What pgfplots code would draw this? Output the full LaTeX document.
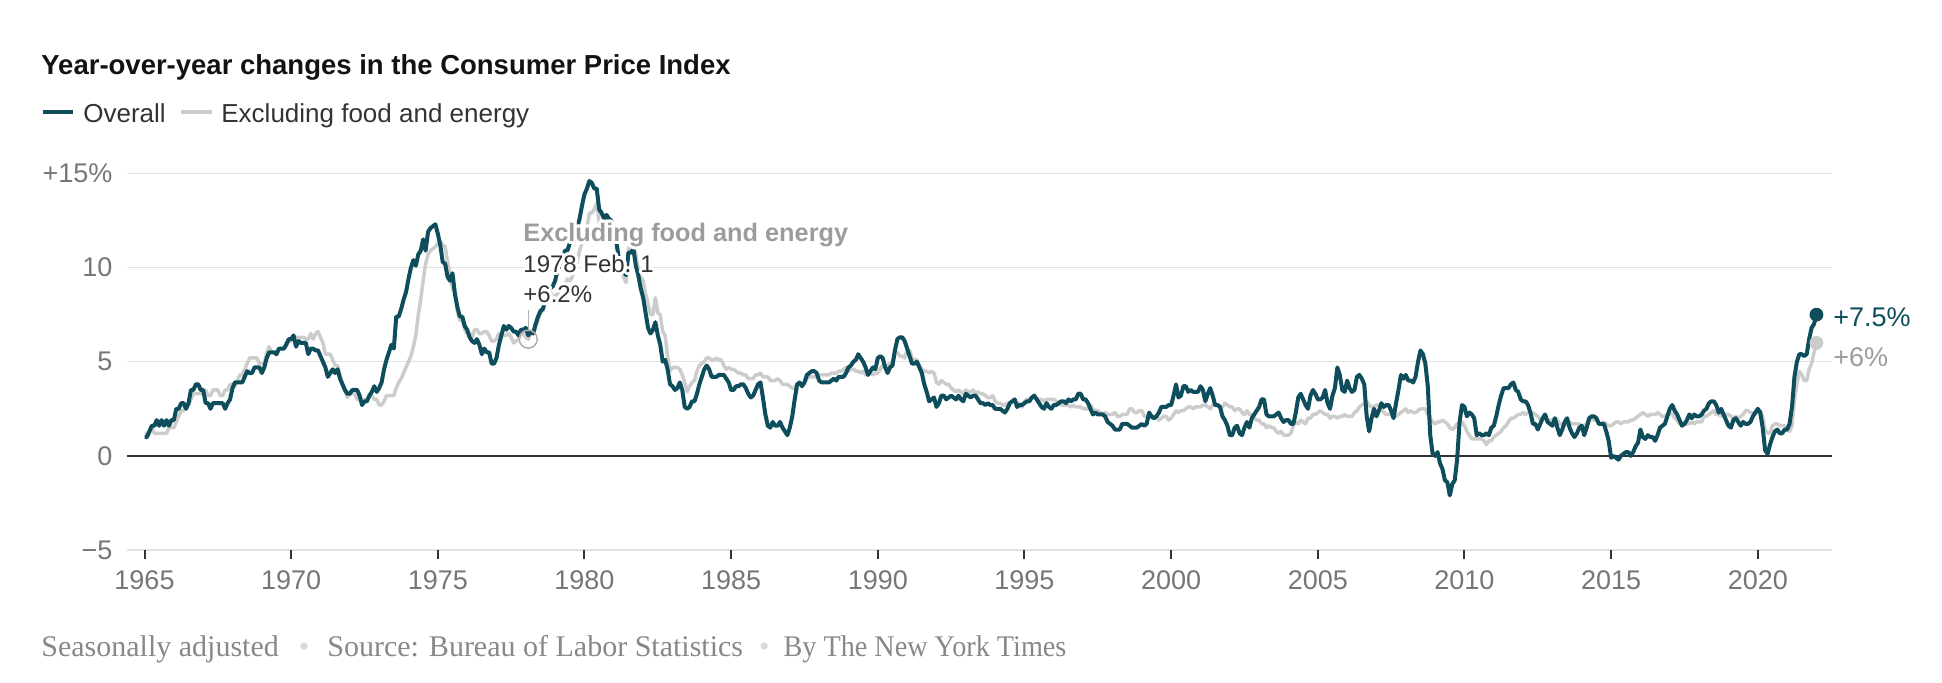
\documentclass[border=0pt]{standalone}
\usepackage{fontspec}
\setmainfont{Liberation Sans}
\newfontfamily\footfont{Liberation Serif}
\usepackage{graphicx}
\usepackage{pgfplots}
\usepackage{pgfplotstable}
\pgfplotsset{compat=1.18}
\usepackage{contour}
\contourlength{1.6pt}

\definecolor{cpi}{HTML}{0E4D5C}
\definecolor{core}{HTML}{CCCCCC}
\definecolor{gridc}{HTML}{E2E2E2}
\definecolor{tickc}{HTML}{767676}
\definecolor{annc}{HTML}{9C9C9C}
\definecolor{footc}{HTML}{888888}
\definecolor{dotc}{HTML}{DADADA}
\definecolor{titlec}{HTML}{121212}
\definecolor{textc}{HTML}{333333}

\newcommand\fs[1]{\fontsize{#1}{#1}\selectfont}

% monthly year-over-year change, Jan 1965 - Jan 2022
\pgfplotstableread[row sep=\\]{
v\\
1.0\\1.0\\1.3\\1.6\\1.6\\1.9\\1.6\\1.9\\1.6\\1.9\\1.6\\1.9\\
1.9\\2.5\\2.5\\2.8\\2.8\\2.5\\2.8\\3.5\\3.5\\3.8\\3.8\\3.5\\
3.5\\2.8\\2.8\\2.5\\2.8\\2.8\\2.8\\2.8\\2.8\\2.5\\2.8\\3.0\\
3.6\\3.9\\3.9\\3.9\\3.9\\4.2\\4.5\\4.4\\4.4\\4.7\\4.7\\4.7\\
4.4\\4.7\\5.2\\5.5\\5.5\\5.5\\5.4\\5.7\\5.7\\5.7\\5.9\\6.2\\
6.2\\6.4\\5.8\\6.1\\6.0\\6.0\\6.0\\5.4\\5.7\\5.7\\5.6\\5.6\\
5.3\\5.0\\4.7\\4.2\\4.4\\4.6\\4.4\\4.6\\4.1\\3.8\\3.5\\3.3\\
3.3\\3.5\\3.5\\3.5\\3.2\\2.7\\2.9\\2.9\\3.2\\3.4\\3.7\\3.4\\
3.6\\3.9\\4.6\\5.1\\5.5\\5.9\\5.7\\7.4\\7.4\\7.8\\8.3\\8.7\\
9.4\\10.0\\10.4\\10.1\\10.7\\10.9\\11.5\\10.9\\11.9\\12.1\\12.2\\12.3\\
11.8\\11.2\\10.3\\10.2\\9.5\\9.3\\9.7\\8.6\\7.9\\7.4\\7.4\\6.9\\
6.7\\6.3\\6.1\\6.0\\6.2\\5.9\\5.4\\5.7\\5.5\\5.5\\4.9\\4.9\\
5.2\\5.9\\6.4\\6.9\\6.7\\6.9\\6.8\\6.6\\6.6\\6.4\\6.7\\6.7\\
6.8\\6.4\\6.6\\6.5\\7.0\\7.4\\7.7\\7.8\\8.3\\8.9\\8.9\\9.0\\
9.3\\9.9\\10.1\\10.5\\10.9\\10.9\\11.3\\11.8\\12.2\\12.1\\12.6\\13.3\\
13.9\\14.2\\14.6\\14.5\\14.2\\14.2\\13.1\\12.9\\12.6\\12.8\\12.6\\12.5\\
11.8\\11.4\\10.5\\10.0\\9.8\\9.6\\10.8\\10.8\\11.0\\10.1\\9.6\\8.9\\
8.4\\7.6\\6.8\\6.5\\6.7\\7.1\\6.4\\5.9\\5.0\\5.1\\4.6\\3.8\\
3.7\\3.5\\3.6\\3.9\\3.5\\2.6\\2.5\\2.6\\2.9\\2.9\\3.3\\3.8\\
4.2\\4.6\\4.8\\4.6\\4.2\\4.2\\4.2\\4.3\\4.3\\4.3\\4.1\\3.9\\
3.5\\3.5\\3.7\\3.7\\3.8\\3.8\\3.6\\3.3\\3.1\\3.2\\3.5\\3.8\\
3.9\\3.1\\2.2\\1.6\\1.5\\1.8\\1.6\\1.6\\1.8\\1.5\\1.3\\1.1\\
1.5\\2.1\\3.0\\3.8\\3.9\\3.7\\3.9\\4.3\\4.4\\4.5\\4.5\\4.4\\
4.0\\3.9\\3.9\\3.9\\3.9\\4.0\\4.1\\4.0\\4.2\\4.2\\4.2\\4.4\\
4.7\\4.8\\5.0\\5.1\\5.4\\5.2\\5.0\\4.7\\4.3\\4.5\\4.7\\4.6\\
5.2\\5.3\\5.2\\4.7\\4.4\\4.7\\4.8\\5.6\\6.2\\6.3\\6.3\\6.1\\
5.7\\5.3\\4.9\\4.9\\5.0\\4.7\\4.4\\3.8\\3.4\\2.9\\3.0\\3.1\\
2.6\\2.8\\3.2\\3.2\\3.0\\3.1\\3.2\\3.1\\3.0\\3.2\\3.0\\2.9\\
3.3\\3.2\\3.1\\3.2\\3.2\\3.0\\2.8\\2.8\\2.7\\2.8\\2.7\\2.7\\
2.5\\2.5\\2.5\\2.4\\2.3\\2.5\\2.8\\2.9\\3.0\\2.6\\2.7\\2.7\\
2.8\\2.9\\2.9\\3.1\\3.2\\3.0\\2.8\\2.6\\2.5\\2.8\\2.6\\2.5\\
2.7\\2.7\\2.8\\2.9\\2.9\\2.8\\3.0\\2.9\\3.0\\3.0\\3.3\\3.3\\
3.0\\3.0\\2.8\\2.5\\2.2\\2.3\\2.2\\2.2\\2.2\\2.1\\1.8\\1.7\\
1.6\\1.4\\1.4\\1.4\\1.7\\1.7\\1.7\\1.6\\1.5\\1.5\\1.5\\1.6\\
1.7\\1.6\\1.7\\2.3\\2.1\\2.0\\2.1\\2.3\\2.6\\2.6\\2.6\\2.7\\
2.7\\3.2\\3.8\\3.1\\3.2\\3.7\\3.7\\3.4\\3.5\\3.4\\3.4\\3.4\\
3.7\\3.5\\2.9\\3.3\\3.6\\3.2\\2.7\\2.7\\2.6\\2.1\\1.9\\1.6\\
1.1\\1.1\\1.5\\1.6\\1.2\\1.1\\1.5\\1.8\\1.5\\2.0\\2.2\\2.4\\
2.6\\3.0\\3.0\\2.2\\2.1\\2.1\\2.1\\2.2\\2.3\\2.0\\1.8\\1.9\\
1.9\\1.7\\1.7\\2.3\\3.1\\3.3\\3.0\\2.7\\2.5\\3.2\\3.5\\3.3\\
3.0\\3.0\\3.1\\3.5\\2.8\\2.5\\3.2\\3.6\\4.7\\4.3\\3.5\\3.4\\
4.0\\3.6\\3.4\\3.5\\4.2\\4.3\\4.1\\3.8\\2.1\\1.3\\2.0\\2.5\\
2.1\\2.4\\2.8\\2.6\\2.7\\2.7\\2.4\\2.0\\2.8\\3.5\\4.3\\4.1\\
4.3\\4.0\\4.0\\3.9\\4.2\\5.0\\5.6\\5.4\\4.9\\3.7\\1.1\\0.1\\
0.0\\0.2\\-0.4\\-0.7\\-1.3\\-1.4\\-2.1\\-1.5\\-1.3\\-0.2\\1.8\\2.7\\
2.6\\2.1\\2.3\\2.2\\2.0\\1.1\\1.2\\1.1\\1.1\\1.2\\1.1\\1.5\\
1.6\\2.1\\2.7\\3.2\\3.6\\3.6\\3.6\\3.8\\3.9\\3.5\\3.4\\3.0\\
2.9\\2.9\\2.7\\2.3\\1.7\\1.7\\1.4\\1.7\\2.0\\2.2\\1.8\\1.7\\
1.6\\2.0\\1.5\\1.1\\1.4\\1.8\\2.0\\1.5\\1.2\\1.0\\1.2\\1.5\\
1.6\\1.1\\1.5\\2.0\\2.1\\2.1\\2.0\\1.7\\1.7\\1.7\\1.3\\0.8\\
-0.1\\0.0\\-0.1\\-0.2\\0.0\\0.1\\0.2\\0.2\\0.0\\0.2\\0.5\\0.7\\
1.4\\1.0\\0.9\\1.1\\1.0\\1.0\\0.8\\1.1\\1.5\\1.6\\1.7\\2.1\\
2.5\\2.7\\2.4\\2.2\\1.9\\1.6\\1.7\\1.9\\2.2\\2.0\\2.2\\2.1\\
2.1\\2.2\\2.4\\2.5\\2.8\\2.9\\2.9\\2.7\\2.3\\2.5\\2.2\\1.9\\
1.6\\1.5\\1.9\\2.0\\1.8\\1.6\\1.8\\1.7\\1.7\\1.8\\2.1\\2.3\\
2.5\\2.3\\1.5\\0.3\\0.1\\0.6\\1.0\\1.3\\1.4\\1.2\\1.2\\1.4\\
1.4\\1.7\\2.6\\4.2\\5.0\\5.4\\5.4\\5.3\\5.4\\6.2\\6.8\\7.0\\
7.5\\
}\overall

% excluding food and energy
\pgfplotstableread[row sep=\\]{
v\\
1.2\\1.2\\1.2\\1.5\\1.2\\1.2\\1.2\\1.2\\1.2\\1.2\\1.5\\1.5\\
1.5\\1.8\\2.1\\2.4\\2.4\\2.7\\2.7\\3.0\\3.3\\3.3\\3.3\\3.3\\
3.3\\3.5\\3.2\\3.2\\3.5\\3.5\\3.5\\3.2\\3.2\\3.5\\3.5\\3.8\\
3.8\\3.7\\4.0\\4.3\\4.3\\4.6\\4.9\\5.2\\5.2\\5.2\\5.2\\4.9\\
4.9\\4.9\\5.5\\5.8\\5.5\\5.5\\5.5\\5.7\\5.7\\5.7\\6.0\\6.1\\
6.1\\6.3\\6.3\\6.3\\6.3\\6.3\\6.2\\6.2\\6.5\\6.2\\6.5\\6.6\\
6.3\\6.0\\5.4\\5.4\\5.4\\5.1\\4.8\\4.8\\4.3\\3.8\\3.5\\3.1\\
3.3\\3.3\\3.3\\3.0\\3.0\\3.0\\3.0\\3.0\\3.2\\3.2\\3.0\\3.0\\
2.7\\2.7\\2.9\\3.2\\3.2\\3.2\\3.2\\3.6\\3.9\\4.1\\4.4\\4.7\\
5.0\\5.3\\5.8\\6.4\\7.5\\8.3\\9.3\\10.2\\10.7\\10.9\\11.0\\11.1\\
11.3\\11.4\\11.2\\11.1\\10.3\\9.7\\8.9\\8.6\\7.7\\7.2\\7.2\\6.7\\
6.5\\6.5\\6.3\\6.7\\6.7\\6.5\\6.5\\6.6\\6.6\\6.4\\6.1\\6.1\\
6.2\\6.5\\6.4\\6.4\\6.4\\6.5\\6.3\\6.0\\6.1\\6.2\\6.5\\6.5\\
6.3\\6.2\\6.5\\6.5\\6.8\\7.2\\7.6\\7.7\\8.4\\8.7\\8.7\\8.5\\
8.5\\8.6\\8.8\\8.8\\9.1\\9.4\\9.3\\9.5\\10.1\\10.3\\10.9\\11.3\\
12.0\\12.1\\12.9\\12.9\\13.1\\13.4\\12.4\\11.8\\11.9\\12.0\\12.1\\12.2\\
11.9\\11.6\\10.6\\9.9\\9.5\\9.2\\11.0\\11.2\\11.4\\10.7\\9.9\\9.5\\
9.3\\8.6\\8.1\\7.5\\7.5\\8.4\\7.6\\7.5\\6.6\\6.4\\5.3\\4.5\\
4.7\\4.7\\4.7\\4.6\\4.3\\3.9\\3.4\\3.7\\3.9\\4.0\\4.5\\4.8\\
4.9\\5.0\\5.2\\5.2\\5.1\\5.1\\5.2\\5.1\\5.1\\4.8\\4.6\\4.7\\
4.6\\4.6\\4.5\\4.4\\4.4\\4.3\\4.3\\4.1\\4.1\\4.1\\4.3\\4.3\\
4.4\\4.2\\4.2\\4.2\\4.0\\4.0\\4.0\\4.1\\4.0\\3.8\\3.8\\3.8\\
3.7\\3.6\\3.6\\3.8\\3.8\\3.8\\3.9\\4.1\\4.2\\4.2\\4.2\\4.2\\
4.3\\4.3\\4.3\\4.3\\4.3\\4.4\\4.4\\4.4\\4.5\\4.5\\4.6\\4.7\\
4.5\\4.6\\4.6\\4.5\\4.5\\4.4\\4.5\\4.3\\4.3\\4.4\\4.3\\4.4\\
4.4\\4.6\\4.8\\4.8\\4.8\\4.9\\5.0\\5.5\\5.5\\5.3\\5.3\\5.2\\
5.6\\5.6\\5.2\\5.1\\5.1\\4.8\\4.6\\4.5\\4.5\\4.4\\4.5\\4.4\\
3.9\\3.8\\4.0\\3.9\\3.8\\3.8\\3.6\\3.5\\3.4\\3.5\\3.4\\3.3\\
3.5\\3.4\\3.4\\3.5\\3.3\\3.4\\3.3\\3.3\\3.2\\3.1\\3.1\\3.2\\
2.9\\2.8\\2.8\\2.7\\2.7\\2.8\\2.8\\2.9\\2.9\\2.8\\2.8\\2.6\\
2.9\\3.0\\3.0\\3.1\\3.1\\3.0\\3.0\\3.0\\2.9\\3.0\\3.0\\3.0\\
3.0\\2.9\\2.8\\2.7\\2.7\\2.7\\2.7\\2.6\\2.7\\2.6\\2.6\\2.6\\
2.5\\2.5\\2.5\\2.7\\2.5\\2.4\\2.4\\2.3\\2.2\\2.3\\2.2\\2.2\\
2.2\\2.3\\2.1\\2.1\\2.2\\2.2\\2.2\\2.5\\2.5\\2.3\\2.3\\2.4\\
2.4\\2.1\\2.1\\2.2\\2.0\\2.1\\2.1\\1.9\\2.0\\2.1\\2.1\\1.9\\
2.0\\2.2\\2.4\\2.3\\2.4\\2.4\\2.5\\2.6\\2.6\\2.5\\2.6\\2.6\\
2.6\\2.7\\2.7\\2.6\\2.5\\2.7\\2.7\\2.7\\2.6\\2.6\\2.8\\2.7\\
2.6\\2.6\\2.4\\2.5\\2.5\\2.3\\2.2\\2.4\\2.2\\2.2\\2.0\\1.9\\
1.9\\1.7\\1.7\\1.5\\1.6\\1.5\\1.5\\1.3\\1.2\\1.3\\1.1\\1.1\\
1.1\\1.2\\1.6\\1.8\\1.7\\1.9\\1.8\\1.7\\2.0\\2.0\\2.2\\2.2\\
2.3\\2.4\\2.3\\2.2\\2.2\\2.0\\2.1\\2.1\\2.0\\2.1\\2.1\\2.2\\
2.1\\2.1\\2.1\\2.3\\2.4\\2.6\\2.7\\2.8\\2.9\\2.7\\2.6\\2.6\\
2.7\\2.7\\2.5\\2.3\\2.2\\2.2\\2.2\\2.1\\2.1\\2.2\\2.3\\2.4\\
2.5\\2.3\\2.4\\2.3\\2.3\\2.4\\2.5\\2.5\\2.5\\2.2\\2.0\\1.8\\
1.7\\1.8\\1.8\\1.9\\1.8\\1.7\\1.5\\1.4\\1.5\\1.7\\1.7\\1.8\\
1.6\\1.3\\1.1\\0.9\\0.9\\0.9\\0.9\\0.9\\0.8\\0.6\\0.8\\0.8\\
1.0\\1.1\\1.2\\1.3\\1.5\\1.6\\1.8\\2.0\\2.0\\2.1\\2.2\\2.2\\
2.3\\2.2\\2.3\\2.3\\2.3\\2.2\\2.1\\1.9\\2.0\\2.0\\1.9\\1.9\\
1.9\\2.0\\1.9\\1.7\\1.7\\1.6\\1.7\\1.8\\1.7\\1.7\\1.7\\1.7\\
1.6\\1.6\\1.7\\1.8\\2.0\\1.9\\1.9\\1.7\\1.7\\1.8\\1.7\\1.6\\
1.6\\1.7\\1.8\\1.8\\1.7\\1.8\\1.8\\1.8\\1.9\\1.9\\2.0\\2.1\\
2.2\\2.3\\2.2\\2.1\\2.2\\2.2\\2.2\\2.3\\2.2\\2.1\\2.1\\2.2\\
2.3\\2.2\\2.0\\1.9\\1.7\\1.7\\1.7\\1.7\\1.7\\1.8\\1.7\\1.8\\
1.8\\1.8\\2.1\\2.1\\2.2\\2.3\\2.4\\2.2\\2.2\\2.1\\2.2\\2.2\\
2.2\\2.1\\2.0\\2.1\\2.0\\2.1\\2.2\\2.4\\2.4\\2.3\\2.3\\2.3\\
2.3\\2.4\\2.1\\1.4\\1.2\\1.2\\1.6\\1.7\\1.7\\1.6\\1.6\\1.6\\
1.4\\1.3\\1.6\\3.0\\3.8\\4.5\\4.3\\4.0\\4.0\\4.6\\4.9\\5.5\\
6.0\\
}\core

\begin{document}
\begin{tikzpicture}
\begin{axis}[
  scale only axis, width=852.5pt, height=188.25pt,
  xmin=1964.393, xmax=2022.52, ymin=-5, ymax=15,
  clip=false,
  axis line style={draw=none},
  xtick={1965,1970,...,2020},
  xticklabels={1965,1970,1975,1980,1985,1990,1995,2000,2005,2010,2015,2020},
  ytick={-5,0,5,10,15},
  yticklabels={−5,0,5,10,+15\%},
  xtick pos=left, ytick pos=left,
  tick align=outside, major tick length=4.5pt,
  xtick style={draw=textc, line width=1pt},
  ytick style={draw=none},
  ymajorgrids, grid style={gridc, line width=0.75pt},
  xticklabel style={font=\fs{13.5}, text=tickc, anchor=north, inner sep=0pt, yshift=-5.5pt},
  yticklabel style={font=\fs{13.5}, text=tickc, anchor=east, inner sep=0pt, xshift=-2.5pt},
]
\draw[textc, line width=1.2pt] (axis cs:1964.393,0) -- (axis cs:2022.52,0);
\addplot[core, line width=1.75pt, line join=round, no marks]
  table[x expr=1965+\coordindex/12, y=v] {\core};
\addplot[cpi, line width=2pt, line join=round, no marks]
  table[x expr=1965+\coordindex/12, y=v] {\overall};
\addplot[only marks, mark=*, mark size=3.25pt, core] coordinates {(2022,6.0)};
\addplot[only marks, mark=*, mark size=3.25pt, cpi] coordinates {(2022,7.5)};
\addplot[only marks, mark=o, mark size=4.5pt, annc!80, line width=0.75pt] coordinates {(1978.083,6.2)};
\draw[annc!80, line width=0.75pt] (axis cs:1978.083,6.62) -- (axis cs:1978.083,7.75);
\end{axis}
\begin{scope}[shift={(-63.35pt,275pt)}, x=0.5pt, y=-0.5pt]
  % title and legend
  \node[anchor=base west, inner sep=0pt, font=\bfseries\fs{13.75}, text=titlec] at (41,74.3)
    {Year-over-year changes in the Consumer Price Index};
  \draw[cpi, line width=2pt] (43,112) -- (73,112);
  \node[anchor=base west, inner sep=0pt, font=\fs{13}, text=textc] at (83,123) {Overall};
  \draw[core, line width=2pt] (181,112) -- (212,112);
  \node[anchor=base west, inner sep=0pt, font=\fs{13}, text=textc] at (221,123) {Excluding food and energy};
  % hover annotation, white halo round the letters
  \node[anchor=base west, inner sep=0pt, font=\bfseries\fs{12.65}, text=annc] at (523,241.7)
    {\contour{white}{Excluding food and energy}};
  \node[anchor=base west, inner sep=0pt, font=\fs{12}, text=textc] at (523,272.7)
    {\contour{white}{1978 Feb. 1}};
  \node[anchor=base west, inner sep=0pt, font=\fs{12}, text=textc] at (523,302.7)
    {\contour{white}{+6.2\%}};
  % end labels
  \node[anchor=base west, inner sep=0pt, font=\fs{13.5}, text=cpi] at (1833,326.4) {+7.5\%};
  \node[anchor=base west, inner sep=0pt, font=\fs{13.5}, text=annc] at (1833,366.7) {+6\%};
  % footer
  \node[anchor=base west, inner sep=0pt, font=\footfont\fs{15}, text=footc] at (41,657)
    {Seasonally adjusted\hspace{10pt}{\color{dotc}•}\hspace{9pt}Source: Bureau of Labor Statistics\hspace{8pt}{\color{dotc}•}\hspace{7pt}\scalebox{0.94}[1]{By The New York Times}};
  \pgfresetboundingbox
  \path[use as bounding box] (0,0) rectangle (1942,683);
\end{scope}
\end{tikzpicture}
\end{document}
